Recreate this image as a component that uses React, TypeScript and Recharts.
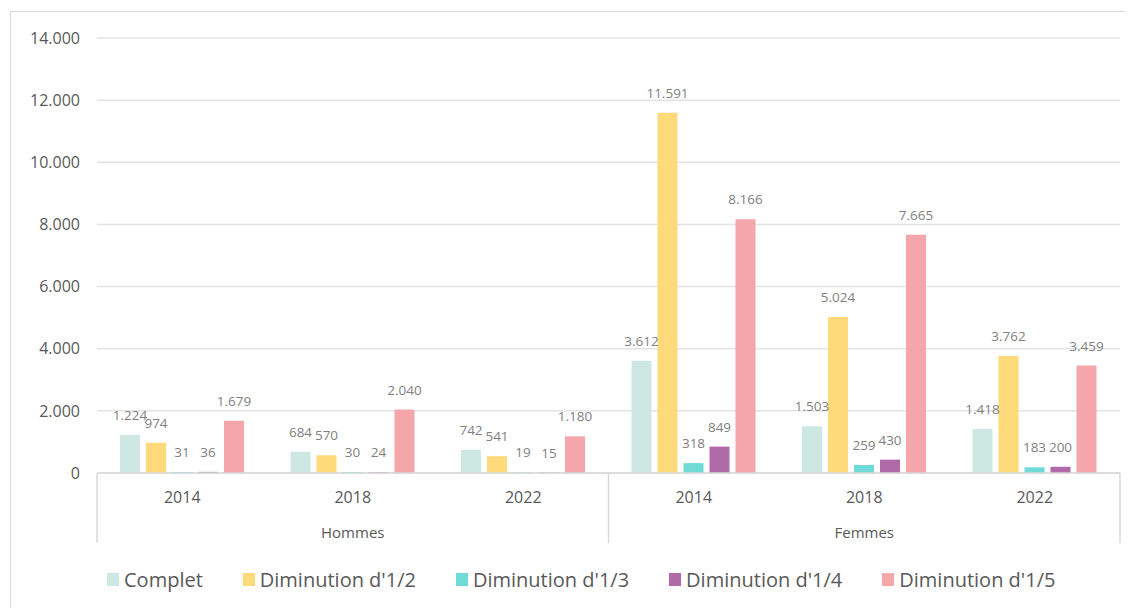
import React from 'react';
import { BarChart, Bar, XAxis, YAxis, CartesianGrid, LabelList, Legend } from 'recharts';

const categories = ['2014', '2018', '2022', '2014', '2018', '2022'];
const groups = ['Hommes', 'Hommes', 'Hommes', 'Femmes', 'Femmes', 'Femmes'];
const complet = [1224, 684, 742, 3612, 1503, 1418];
const dim12 = [974, 570, 541, 11591, 5024, 3762];
const dim13 = [31, 30, 19, 318, 259, 183];
const dim14 = [36, 24, 15, 849, 430, 200];
const dim15 = [1679, 2040, 1180, 8166, 7665, 3459];
const yTicks = [0, 2000, 4000, 6000, 8000, 10000, 12000, 14000];

const seriesNames = ['Complet', "Diminution d'1/2", "Diminution d'1/3", "Diminution d'1/4", "Diminution d'1/5"];
const seriesKeys = ['complet', 'dim12', 'dim13', 'dim14', 'dim15'];
const seriesColors = ['#cde7e3', '#ffda7a', '#70dad6', '#b06aa8', '#f4a6aa'];

const data = categories.map((year, i) => ({
  key: `${groups[i]}-${year}-${i}`,
  year,
  group: groups[i],
  complet: complet[i],
  dim12: dim12[i],
  dim13: dim13[i],
  dim14: dim14[i],
  dim15: dim15[i],
}));

const fmt = (v: any) => String(v).replace(/\B(?=(\d{3})+(?!\d))/g, '.');

const FONT = '"Open Sans", sans-serif';
const TEXT = '#595959';
const LINE = '#d9d9d9';

const YearTick = (props: any) => {
  const { x, y, index } = props;
  return (
    <text x={x} y={y + 16} textAnchor="middle" dominantBaseline="central" fontFamily={FONT} fontSize={16} fill={TEXT}>
      {categories[index]}
    </text>
  );
};

const GroupTick = (props: any) => {
  const { x, y, payload, index } = props;
  const half = payload && payload.offset ? payload.offset : 85.25;
  const i = index;
  const grp = groups[i];
  const top = y - 53;
  const bottom = y + 17;
  return (
    <g>
      {i % 3 === 0 && <line x1={x - half} x2={x - half} y1={top} y2={bottom} stroke={LINE} strokeWidth={1.5} />}
      {i === categories.length - 1 && <line x1={x + half} x2={x + half} y1={top} y2={bottom} stroke={LINE} strokeWidth={1.5} />}
      {i % 3 === 1 && (
        <text x={x} y={y + 6} textAnchor="middle" dominantBaseline="central" fontFamily={FONT} fontSize={15} fill={TEXT}>
          {grp}
        </text>
      )}
    </g>
  );
};

const renderLegend = () => (
  <div style={{ display: 'flex', flexDirection: 'row', alignItems: 'center', gap: 40, fontFamily: FONT, fontSize: 20, color: TEXT, whiteSpace: 'nowrap' }}>
    {seriesNames.map((n, i) => (
      <div key={n} style={{ display: 'flex', alignItems: 'center' }}>
        <span style={{ display: 'inline-block', width: 12, height: 13, background: seriesColors[i], marginRight: 5 }} />
        <span>{n}</span>
      </div>
    ))}
  </div>
);

export default function App() {
  return (
    <div style={{ position: 'relative', width: 1125, height: 600 }}>
      <div style={{ position: 'absolute', left: 2, top: 3, width: 1123, height: 597, borderLeft: `1.5px solid ${LINE}`, borderTop: `1.5px solid ${LINE}` }} />
      <BarChart
        width={1125}
        height={600}
        data={data}
        margin={{ top: 30, right: 13, left: 29, bottom: 64 }}
        barSize={20}
        barGap={6}
      >
        <CartesianGrid vertical={false} stroke="#e3e3e3" strokeWidth={1.5} />
        <XAxis
          xAxisId="b"
          dataKey="key"
          tick={(p: any) => <GroupTick {...p} />}
          tickLine={false}
          axisLine={false}
          height={26}
          interval={0}
        />
        <XAxis
          xAxisId="a"
          dataKey="key"
          tick={(p: any) => <YearTick {...p} />}
          tickLine={false}
          axisLine={{ stroke: LINE, strokeWidth: 1.5 }}
          height={45}
          interval={0}
        />
        <YAxis
          width={60}
          domain={[0, 14000]}
          ticks={yTicks}
          tickFormatter={fmt}
          tickLine={false}
          axisLine={false}
          tickMargin={11}
          tick={{ fontFamily: FONT, fontSize: 16, fill: TEXT }}
        />
        <Legend layout="horizontal" verticalAlign="middle" content={renderLegend} wrapperStyle={{ top: 558, left: 99, width: 'auto' }} />
        {seriesKeys.map((k, i) => (
          <Bar key={k} xAxisId="a" dataKey={k} name={seriesNames[i]} fill={seriesColors[i]} isAnimationActive={false}>
            <LabelList dataKey={k} position="top" offset={15} formatter={fmt} fill="#7f7f7f" fontSize={13.5} fontFamily={FONT} />
          </Bar>
        ))}
      </BarChart>
    </div>
  );
}
